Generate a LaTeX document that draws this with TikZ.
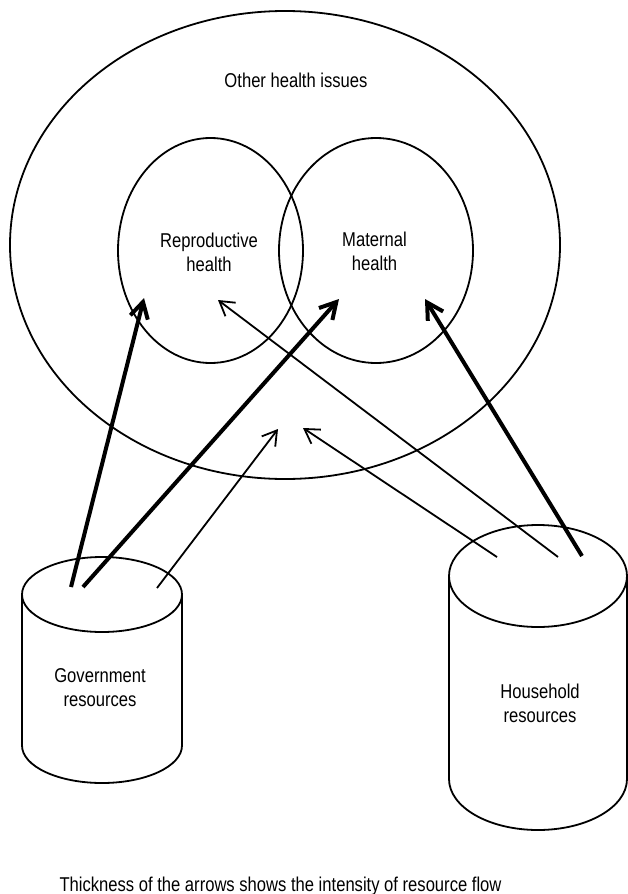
\documentclass[tikz,border=0pt]{standalone}
\usepackage{fontspec}
\setmainfont{Liberation Sans}[FakeStretch=0.83]
\usepackage{tikz}
\usetikzlibrary{arrows.meta}
\tikzset{
  shp/.style={line width=1.8pt},
  flowthin/.style={->,line width=1.8pt,>={Straight Barb[length=14pt,width=17pt]}},
  flowthick/.style={->,line width=4pt,>={Straight Barb[length=16pt,width=18pt]}},
  lbl/.style={align=center,inner sep=0pt,font=\fontsize{20}{24}\selectfont}
}
\begin{document}
\begin{tikzpicture}[line join=round,x=1pt,y=1pt]
\useasboundingbox (0,0) rectangle (628,-894);
% health areas
\draw [shp] (285,-245) ellipse (275 and 234);
\draw [shp] (210.5,-250.5) ellipse (92.5 and 112.5);
\draw [shp] (376,-250.5) ellipse (97 and 112.5);
% resource pools
\draw [shp] (102,-594.5) ellipse (80 and 37.5);
\draw [shp] (22,-594.5) -- (22,-745.5) arc [start angle=180,end angle=360,x radius=80,y radius=37.5] -- (182,-594.5);
\draw [shp] (538,-576) ellipse (89 and 51);
\draw [shp] (449,-576) -- (449,-779) arc [start angle=180,end angle=360,x radius=89,y radius=51] -- (627,-576);
\node [lbl] (other) at (296,-80) {Other health issues};
\node [lbl] (repro) at (209,-252) {Reproductive\\health};
\node [lbl] (matern) at (374.5,-251.5) {Maternal\\health};
\node [lbl] (gov) at (100,-688) {Government\\resources};
\node [lbl] (house) at (540,-703) {Household\\resources};
\node [lbl] (note) at (280.5,-886) {Thickness of the arrows shows the intensity of resource flow};
% arrow ends
\coordinate (tipRG) at (144,-298);
\coordinate (tipRH) at (218,-300);
\coordinate (tipMG) at (339,-299);
\coordinate (tipMH) at (425,-299);
\coordinate (tipOG) at (278,-429);
\coordinate (tipOH) at (303,-428);
\coordinate (govA) at (71,-587);
\coordinate (govB) at (83,-587);
\coordinate (govC) at (157,-588);
\coordinate (houseA) at (497,-557);
\coordinate (houseB) at (558,-557);
\coordinate (houseC) at (582,-556);
\draw [flowthick] (govA) -- (tipRG);
\draw [flowthick] (govB) -- (tipMG);
\draw [flowthin] (govC) -- (tipOG);
\draw [flowthin] (houseA) -- (tipOH);
\draw [flowthin] (houseB) -- (tipRH);
\draw [flowthick] (houseC) -- (tipMH);
\end{tikzpicture}
\end{document}
